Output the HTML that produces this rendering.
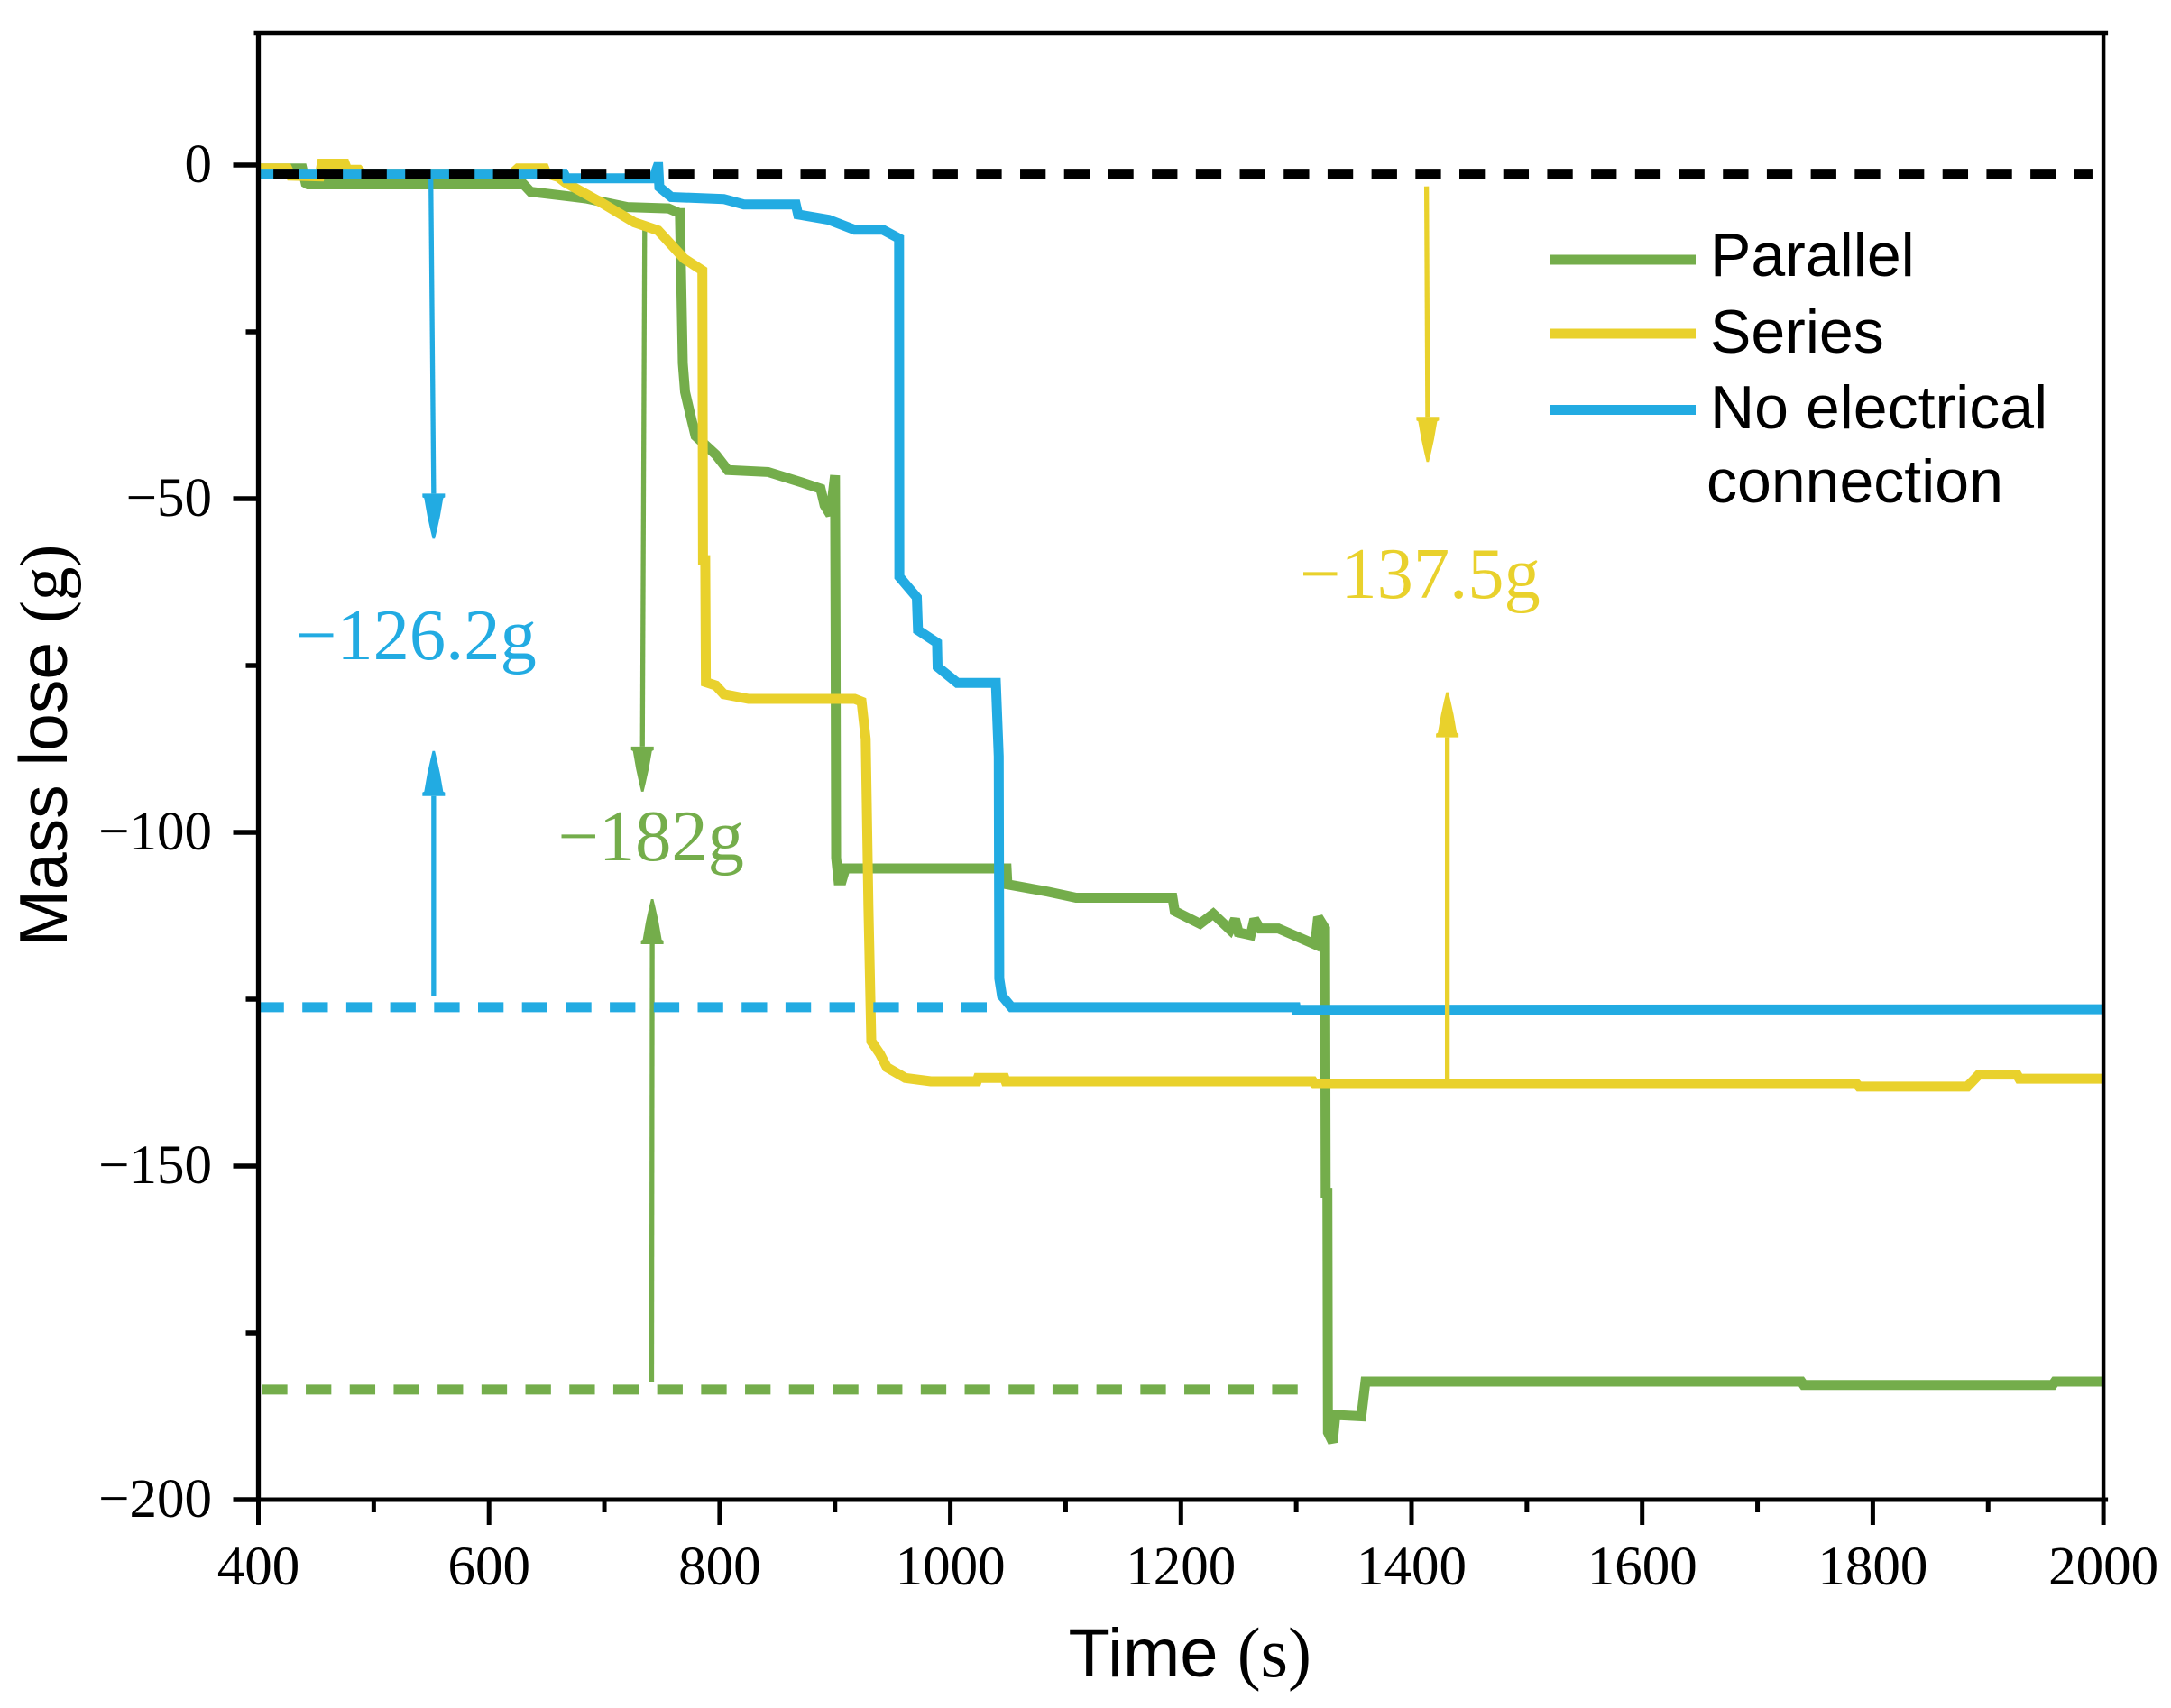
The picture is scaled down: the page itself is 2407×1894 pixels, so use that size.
<!DOCTYPE html>
<html lang="en">
<head>
<meta charset="utf-8">
<title>Mass lose over time</title>
<style>
html,body{margin:0;padding:0;background:#fff;}
body{width:2407px;height:1894px;overflow:hidden;}
svg{display:block;}
.serif{font-family:"Liberation Serif",serif;}
.sans{font-family:"Liberation Sans",sans-serif;}
</style>
</head>
<body>
<svg id="chart" xmlns="http://www.w3.org/2000/svg" width="2407" height="1894" viewBox="0 0 2407 1894">
  <rect x="0" y="0" width="2407" height="1894" fill="#ffffff"/>
  <g id="series-layer"></g>
  <g id="axis-layer"></g>
  <text x="1184.5" y="1859" font-size="76" class="sans" fill="#000">Time <tspan class="serif" font-size="78">(s)</tspan></text>
  <text transform="translate(74,1049.5) rotate(-90)" font-size="75" class="sans" fill="#000">Mass lose <tspan class="serif" font-size="75">(g)</tspan></text>
  <g class="sans" font-size="68" fill="#000">
    <line x1="1718" x2="1880" y1="288" y2="288" stroke="#74AD4B" stroke-width="11"/>
    <text x="1896" y="306">Parallel</text>
    <line x1="1718" x2="1880" y1="370" y2="370" stroke="#E9D12C" stroke-width="11"/>
    <text x="1896" y="391">Series</text>
    <line x1="1718" x2="1880" y1="454.5" y2="454.5" stroke="#22ABE2" stroke-width="11"/>
    <text x="1896" y="475">No electrical</text>
    <text x="1892" y="557">connection</text>
  </g>
  <g class="serif" font-size="80.5">
    <text x="328" y="731" fill="#22ABE2">&#8722;126.2g</text>
    <text x="618.5" y="954" fill="#74AD4B">&#8722;182g</text>
    <text x="1441" y="663" fill="#E9D12C">&#8722;137.5g</text>
  </g>
</svg>
<script>
// Axis tick values
const xMajorTicks = [400, 600, 800, 1000, 1200, 1400, 1600, 1800, 2000];
const xMinorTicks = [500, 700, 900, 1100, 1300, 1500, 1700, 1900];
const yMajorTicks = [0, -50, -100, -150, -200];
const yMinorTicks = [-25, -75, -125, -175];

// Parallel series
const parallelTime = [400,438,441,443,630,636,684,720,755.6,765,765.5,768,770,775,779,796.7,807,842,870,887.5,891,896,900,900.5,901,903,906,909,1048.8,1049.5,1084.8,1109,1192.7,1194.6,1216.6,1228,1242.6,1247,1250,1260.5,1263.7,1268.5,1284.5,1316.4,1319,1325,1325.5,1327,1327.5,1331.7,1334,1356.4,1360,1738,1740,1956,1958,2000];
const parallelMass = [-0.5,-0.5,-2.7,-2.9,-2.9,-4,-5,-6.3,-6.5,-7.2,-7.2,-29.7,-34,-37.7,-40.6,-43.4,-45.7,-46,-47.5,-48.5,-51,-52.4,-46.5,-70,-103.8,-107.2,-107.2,-105.4,-105.4,-107.8,-108.9,-109.8,-109.8,-111.8,-113.7,-112.2,-114.6,-113,-115,-115.4,-113,-114.4,-114.4,-116.8,-112.7,-114.4,-154,-154,-189.9,-191.4,-187.3,-187.5,-182.3,-182.3,-182.8,-182.8,-182.3,-182.3];

// Series connection
const seriesTime = [400,425,428,453,455,475,477,487,490,620,625,648,650,660,665.8,697,726,746.6,769,785,785.5,787.5,788,796.7,803.6,825,917,923,926.6,929,931.5,939,945,961,983,1023,1024,1047,1048,1314.4,1316,1786,1788,1882,1892,1925,1927,2000];
const seriesMass = [-0.5,-0.5,-1.6,-1.7,0.2,0.2,-0.7,-0.7,-1.3,-1.3,-0.5,-0.5,-1.3,-1.8,-2.6,-5.6,-8.6,-9.8,-14,-15.8,-59.2,-59.2,-77.5,-78,-79.3,-80,-80,-80.4,-86,-111,-131.3,-133.2,-135.2,-136.8,-137.3,-137.3,-136.8,-136.8,-137.3,-137.3,-137.7,-137.7,-138.1,-138.1,-136.3,-136.3,-136.9,-136.9];

// No electrical connection
const noConnectionTime = [400,665,667,742.5,746,746.7,747.7,758,803.6,821,866,868,894.7,917,941.5,955.6,955.8,971,972,988.5,989,1006,1039.5,1042,1042.5,1044.8,1053,1299.6,1300,2000];
const noConnectionMass = [-1.3,-1.3,-2,-2,-0.3,-0.3,-3.3,-4.8,-5.1,-5.9,-5.9,-7.4,-8.2,-9.7,-9.7,-11,-61.7,-64.8,-69.7,-71.6,-75.2,-77.6,-77.6,-88.6,-121.9,-124.5,-126.2,-126.2,-126.6,-126.5];

// Reference levels: mass value, start time, end time
const zeroLevel = -1.3;
const zeroLevelRange = [413, 1990.5];
const noConnectionLevel = -126.2;
const noConnectionLevelRange = [400, 1035];
const parallelLevel = -183.5;
const parallelLevelRange = [403, 1305];

// Annotation arrows: start time, start mass, tip time, tip mass
const noConnectionDownArrow = [549.5, -1.3, 552, -56];
const noConnectionUpArrow = [552, -124.5, 552, -87.8];
const parallelDownArrow = [735, -8.7, 733, -93.9];
const parallelUpArrow = [741, -182.4, 741.5, -110];
const seriesDownArrow = [1413, -3.2, 1414, -44.5];
const seriesUpArrow = [1431, -137, 1431, -79];

const GREEN = '#74AD4B';
const YELLOW = '#E9D12C';
const BLUE = '#22ABE2';
const NS = 'http://www.w3.org/2000/svg';
const X0 = 286.5, XK = 1.2785;
const Y0 = 183, YK = 7.4;
function xScale(t) { return X0 + (t - 400) * XK; }
function yScale(v) { return Y0 - v * YK; }

const seriesLayer = document.getElementById('series-layer');
const axisLayer = document.getElementById('axis-layer');

function make(tag, parent, attrs) {
  const el = document.createElementNS(NS, tag);
  for (const k in attrs) el.setAttribute(k, attrs[k]);
  parent.appendChild(el);
  return el;
}

function pointsOf(times, values) {
  return times.map(function (t, i) { return xScale(t).toFixed(1) + ',' + yScale(values[i]).toFixed(1); }).join(' ');
}

function drawSeries(times, values, color, name) {
  const el = make('polyline', seriesLayer, {
    points: pointsOf(times, values), fill: 'none', stroke: color,
    'stroke-width': 11, 'stroke-linejoin': 'miter', 'stroke-miterlimit': 2, 'stroke-linecap': 'butt'
  });
  
  
}

function drawLevel(value, range, color, name) {
  const el = make('line', seriesLayer, {
    x1: xScale(range[0]), x2: xScale(range[1]), y1: yScale(value), y2: yScale(value),
    stroke: color, 'stroke-width': 11, 'stroke-dasharray': '28.3 20.4'
  });
  
  
}

function drawArrow(spec, color, name) {
  const x1 = xScale(spec[0]), y1 = yScale(spec[1]);
  const x2 = xScale(spec[2]), y2 = yScale(spec[3]);
  const dir = y2 > y1 ? 1 : -1;
  const baseY = y2 - dir * 50;
  const group = make('g', seriesLayer, {});
  
  
  make('line', group, { x1: x1, y1: y1, x2: x2, y2: baseY, stroke: color, 'stroke-width': 5.3 });
  const profile = [[1.3, 0], [3.7, 10], [7, 25], [10.5, 45], [12.5, 46], [12.5, 50]];
  const right = profile.map(function (p) { return [x2 + p[0], y2 - dir * p[1]]; });
  const left = profile.slice().reverse().map(function (p) { return [x2 - p[0], y2 - dir * p[1]]; });
  const pts = left.concat(right);
  make('polygon', group, { points: pts.map(function (p) { return p[0] + ',' + p[1]; }).join(' '), fill: color });
}

// Draw order matches the figure
drawSeries(parallelTime, parallelMass, GREEN, 'series-parallel');
drawLevel(parallelLevel, parallelLevelRange, GREEN, 'parallel-final-mass-line');
drawArrow(parallelDownArrow, GREEN, 'parallel-down-arrow');
drawArrow(parallelUpArrow, GREEN, 'parallel-up-arrow');
drawSeries(seriesTime, seriesMass, YELLOW, 'series-series');
drawLevel(noConnectionLevel, noConnectionLevelRange, BLUE, 'no-connection-final-mass-line');
drawSeries(noConnectionTime, noConnectionMass, BLUE, 'series-no-electrical-connection');
drawArrow(noConnectionDownArrow, BLUE, 'no-connection-down-arrow');
drawArrow(noConnectionUpArrow, BLUE, 'no-connection-up-arrow');
drawArrow(seriesDownArrow, YELLOW, 'series-down-arrow');
drawArrow(seriesUpArrow, YELLOW, 'series-up-arrow');
drawLevel(zeroLevel, zeroLevelRange, '#000000', 'initial-mass-line');

// Frame
const frameLeft = xScale(400), frameRight = xScale(2000);
const frameBottom = yScale(-200), frameTop = 36.5;

const topSpine = make('line', axisLayer, { x1: frameLeft - 5, x2: frameRight + 5, y1: frameTop, y2: frameTop, stroke: '#000', 'stroke-width': 5.5 });


const bottomSpine = make('line', axisLayer, { x1: frameLeft - 5, x2: frameRight + 5, y1: frameBottom, y2: frameBottom, stroke: '#000', 'stroke-width': 5 });


const leftSpine = make('line', axisLayer, { x1: frameLeft, x2: frameLeft, y1: frameTop, y2: frameBottom, stroke: '#000', 'stroke-width': 5.3 });


const rightSpine = make('line', axisLayer, { x1: frameRight, x2: frameRight, y1: frameTop, y2: frameBottom, stroke: '#000', 'stroke-width': 4.5 });



xMajorTicks.forEach(function (t) {
  const tick = make('line', axisLayer, { x1: xScale(t), x2: xScale(t), y1: frameBottom, y2: frameBottom + 28, stroke: '#000', 'stroke-width': 5 });
  
  
  const label = make('text', axisLayer, { x: xScale(t), y: frameBottom + 94, 'text-anchor': 'middle', 'font-size': 61, 'font-family': '"Liberation Serif", serif', fill: '#000' });
  label.textContent = String(t);
  
  
});
xMinorTicks.forEach(function (t) {
  const tick = make('line', axisLayer, { x1: xScale(t), x2: xScale(t), y1: frameBottom, y2: frameBottom + 14, stroke: '#000', 'stroke-width': 5 });
  
  
});
yMajorTicks.forEach(function (v) {
  const tick = make('line', axisLayer, { x1: frameLeft - 28, x2: frameLeft, y1: yScale(v), y2: yScale(v), stroke: '#000', 'stroke-width': 5.5 });
  
  
  const label = make('text', axisLayer, { x: 235, y: yScale(v) + 19, 'text-anchor': 'end', 'font-size': 61, 'font-family': '"Liberation Serif", serif', fill: '#000' });
  label.textContent = v < 0 ? '\u2212' + Math.abs(v) : String(v);
  
  
});
yMinorTicks.forEach(function (v) {
  const tick = make('line', axisLayer, { x1: frameLeft - 14, x2: frameLeft, y1: yScale(v), y2: yScale(v), stroke: '#000', 'stroke-width': 5.5 });
  
  
});
</script>
</body>
</html>
